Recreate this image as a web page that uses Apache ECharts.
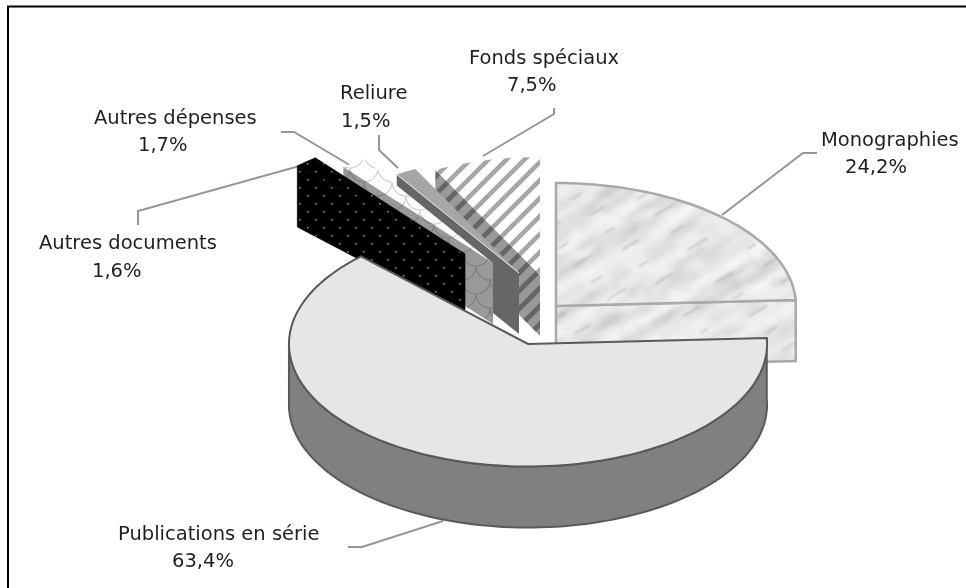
<!DOCTYPE html>
<html>
<head>
<meta charset="utf-8">
<style>
html, body { margin: 0; padding: 0; background: #fff; }
#chart { width: 966px; height: 588px; }
</style>
<script src="https://cdn.jsdelivr.net/npm/echarts@6/dist/echarts.min.js"></script>
</head>
<body>
<div id="chart"></div>
<script>
var categories = ['Monographies', 'Publications en série', 'Autres documents', 'Autres dépenses', 'Reliure', 'Fonds spéciaux'];
var shares = [24.2, 63.4, 1.6, 1.7, 1.5, 7.5];

// where each exploded slice has its point, on screen
var sliceApex = [[556, 306], [528, 344], [465, 254], [493, 263], [519, 273], [540, 275]];
var sliceScale = [1, 0.996, 1, 1, 0.95, 0.96];
// back to front
var drawOrder = [5, 4, 3, 2, 0, 1];
var labelPos = [[821, 141, 845, 168], [118, 535, 172, 562], [39, 244, 92, 272], [94, 119, 138, 146], [340, 94, 341, 122], [469, 59, 507, 86]];
var leaders = [
	[[722, 215], [803, 153], [817, 153]],
	[[443, 521], [362, 547], [348, 547]],
	[[303, 165], [138, 211], [138, 225]],
	[[353, 167], [294, 132], [281, 132]],
	[[398, 168], [379, 150], [379, 135]],
	[[483, 156], [554, 114], [554, 108]]
];

var FLATTEN = 0.5125;
var DEPTH = 61;
var total = shares.reduce(function(a, b) { return a + b; }, 0);

function tile(w, h, draw)
{
	var c = document.createElement('canvas');
	c.width = w;
	c.height = h;
	draw(c.getContext('2d'), w, h);
	return { image: c, repeat: 'repeat' };
}

function hatch(bg, fg, width)
{
	return tile(18, 18, function(g, w, h)
	{
		g.fillStyle = bg;
		g.fillRect(0, 0, w, h);
		g.strokeStyle = fg;
		g.lineWidth = width;
		[-w, 0, w].forEach(function(o)
		{
			g.beginPath();
			g.moveTo(o - 2, h + 2);
			g.lineTo(o + w + 2, -2);
			g.stroke();
		});
	});
}

function scales(bg, fg)
{
	return tile(28, 28, function(g, w, h)
	{
		g.fillStyle = bg;
		g.fillRect(0, 0, w, h);
		g.strokeStyle = fg;
		g.lineWidth = 1.2;
		[[0, 0], [28, 0], [14, 14], [0, 28], [28, 28], [14, -14]].forEach(function(o)
		{
			g.beginPath();
			g.arc(o[0], o[1], 14, 0, Math.PI);
			g.stroke();
		});
	});
}

function dots()
{
	return tile(16, 16, function(g, w, h)
	{
		g.fillStyle = '#000';
		g.fillRect(0, 0, w, h);
		g.fillStyle = '#9a9a9a';
		g.fillRect(3, 3, 1.5, 1.5);
		g.fillRect(11, 11, 1.5, 1.5);
	});
}

function marble()
{
	return tile(256, 200, function(g, w, h)
	{
		// every streak is drawn on all neighbours so the tile wraps without a seam
		function streak(x, y, len)
		{
			[-w, 0, w].forEach(function(ox)
			{
				[-h, 0, h].forEach(function(oy)
				{
					g.beginPath();
					g.moveTo(x + ox, y + oy);
					g.lineTo(x + ox + len, y + oy - len * 0.6);
					g.stroke();
				});
			});
		}
		g.fillStyle = '#eeeeee';
		g.fillRect(0, 0, w, h);
		g.lineCap = 'round';
		g.filter = 'blur(3px)';
		for (var i = 0; i < 260; i++)
		{
			g.strokeStyle = i % 3 === 0 ? 'rgba(255,255,255,0.55)' : 'rgba(155,155,155,' + (0.12 + (i * 13 % 24) / 100) + ')';
			g.lineWidth = 2 + i % 5;
			streak((i * 97.3) % w, (i * 61.7 + 13 * Math.sin(i * 1.7) + h) % h, 10 + (i * 37 % 34));
		}
		g.filter = 'blur(1px)';
		g.strokeStyle = 'rgba(140,140,140,0.45)';
		g.lineWidth = 1.5;
		for (var j = 0; j < 40; j++)
		{
			streak((j * 143.9) % w, (j * 83.3) % h, 6 + (j * 23 % 14));
		}
		g.filter = 'none';
	});
}

var marbleFill = marble();
var topFill = [marbleFill, '#e6e6e6', dots(), scales('#ffffff', '#cdcdcd'), '#a6a6a6', hatch('#ffffff', '#a6a6a6', 4.5)];
var wallFill = [marbleFill, '#808080', dots(), scales('#999999', '#7f7f7f'), '#666666', hatch('#999999', '#666666', 5)];
var sliceStroke = ['#a9a9a9', '#595959', '#000000', null, null, null];
var sliceStrokeWidth = [2.5, 2, 0.6, 0, 0, 0];

function percent(v)
{
	return v.toFixed(1).replace('.', ',') + '%';
}

function renderSlice(params, api)
{
	var idx = api.value(0);
	var from = api.value(1);
	var to = api.value(2);
	var cs = params.coordSys;
	var apex = sliceApex[idx];
	var k = sliceScale[idx];

	// take the point from the polar axis, then squash it into the tilted ellipse
	function rim(v, drop)
	{
		var p = api.coord([k, v]);
		return [apex[0] + p[0] - cs.cx, apex[1] + (p[1] - cs.cy) * FLATTEN + (drop || 0)];
	}
	function arc(a, b, drop)
	{
		var pts = [];
		var n = Math.max(4, Math.ceil(Math.abs(b - a) * 2));
		for (var i = 0; i <= n; i++)
		{
			pts.push(rim(a + (b - a) * i / n, drop));
		}
		return pts;
	}

	var stroke = sliceStroke[idx];
	var children = [];
	var wall;

	if (idx === 0)
	{
		// cut face towards the viewer
		wall = [apex, rim(to), rim(to, DEPTH), [apex[0], apex[1] + DEPTH]];
	}
	else if (idx === 1)
	{
		// outer wall, front half of the rim only
		var front = total * 0.75;
		wall = arc(from, front).concat(arc(front, from, DEPTH));
	}
	else
	{
		wall = [apex, rim(from), rim(from, DEPTH), [apex[0], apex[1] + DEPTH]];
	}

	children.push({
		type: 'polygon',
		shape: { points: wall },
		style: { fill: wallFill[idx], stroke: stroke, lineWidth: sliceStrokeWidth[idx] }
	});
	children.push({
		type: 'polygon',
		shape: { points: [apex].concat(arc(from, to)) },
		style: { fill: topFill[idx], stroke: stroke, lineWidth: sliceStrokeWidth[idx] }
	});
	if (idx === 4)
	{
		// light edge between the top and the wall of the thin slice
		children.push({
			type: 'polyline',
			shape: { points: [apex, rim(from)] },
			style: { fill: 'none', stroke: '#ececec', lineWidth: 1 }
		});
	}

	return { type: 'group', children: children };
}

function renderLabel(params, api)
{
	var idx = api.value(0);
	var pos = labelPos[idx];
	var font = '19.5px "DejaVu Sans"';
	return {
		type: 'group',
		children: [
			{
				type: 'polyline',
				shape: { points: leaders[idx] },
				style: { fill: 'none', stroke: '#969696', lineWidth: 2 }
			},
			{
				type: 'text',
				style: { text: categories[idx], x: pos[0], y: pos[1], font: font, fill: '#1f1f1f', verticalAlign: 'middle' }
			},
			{
				type: 'text',
				style: { text: percent(shares[idx]), x: pos[2], y: pos[3], font: font, fill: '#1f1f1f', verticalAlign: 'middle' }
			}
		]
	};
}

var cum = 0;
var ranges = shares.map(function(v, i)
{
	var row = { index: i, from: cum, to: cum + v };
	cum += v;
	return row;
});
var sliceData = drawOrder.map(function(i)
{
	return [ranges[i].index, ranges[i].from, ranges[i].to];
});
var labelData = categories.map(function(c, i)
{
	return [i, ranges[i].from, ranges[i].to];
});

var options =
{
	animation: false,
	backgroundColor: '#ffffff',
	polar: { center: [500, 300], radius: 240 },
	angleAxis: { type: 'value', min: 0, max: total, startAngle: 90, show: false },
	radiusAxis: { type: 'value', min: 0, max: 1, show: false },
	graphic:
	[
		{
			// the frame only shows on the top and left in the source picture
			type: 'polyline',
			silent: true,
			shape: { points: [[8, 588], [8, 6.5], [966, 6.5]] },
			style: { fill: 'none', stroke: '#000', lineWidth: 2 }
		}
	],
	series:
	[
		{
			type: 'custom',
			name: 'Parts',
			coordinateSystem: 'polar',
			renderItem: renderSlice,
			data: sliceData,
			silent: true,
			z: 2
		},
		{
			type: 'custom',
			name: 'Etiquettes',
			coordinateSystem: 'polar',
			renderItem: renderLabel,
			data: labelData,
			silent: true,
			z: 1
		}
	]
};

var chart = echarts.init(document.getElementById('chart'));
chart.setOption(options);
</script>
</body>
</html>
